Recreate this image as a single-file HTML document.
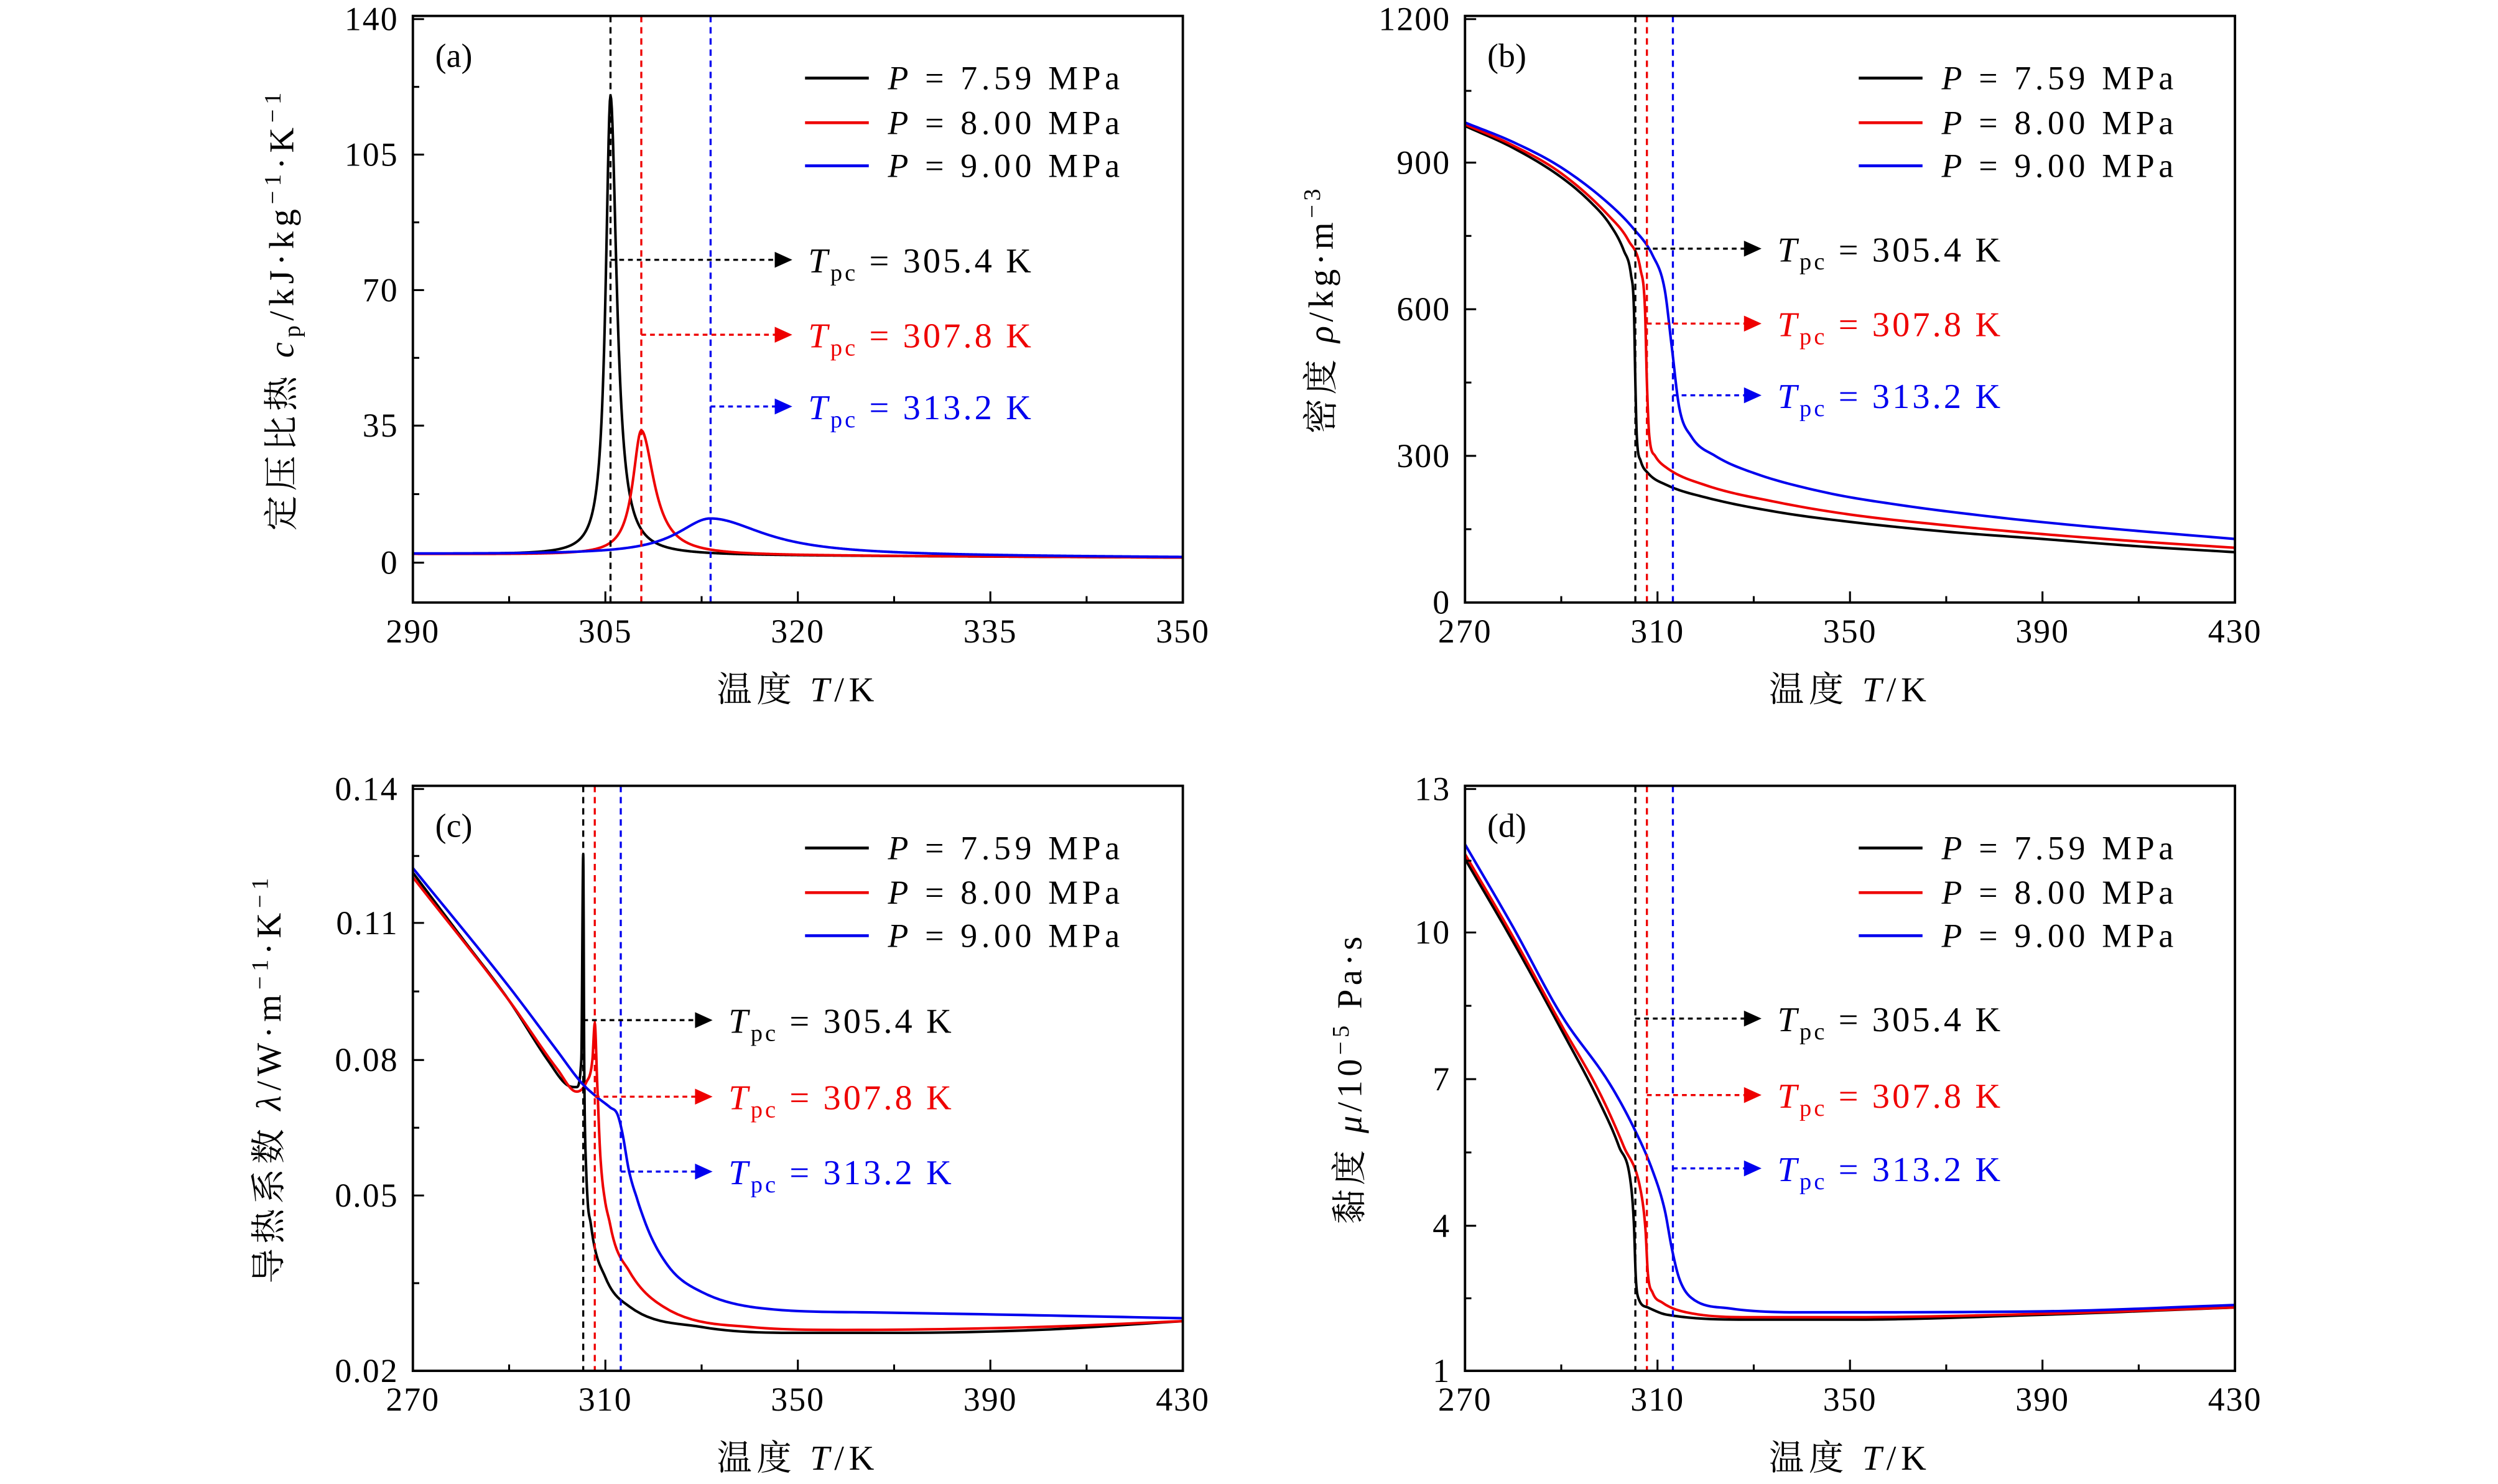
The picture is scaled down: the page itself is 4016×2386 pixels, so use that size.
<!DOCTYPE html>
<html><head><meta charset="utf-8"><style>
html,body{margin:0;padding:0;background:#fff;}
svg{display:block;}
text{font-family:"Liberation Serif","Noto Serif CJK SC",serif;fill:#000;}
</style></head><body>
<svg id="s" width="4016" height="2386" viewBox="0 0 1567 931" preserveAspectRatio="none" xmlns="http://www.w3.org/2000/svg">
<rect width="1567" height="931" fill="#fff"/>
<g id="g"></g>
</svg>
<script>
const NS="http://www.w3.org/2000/svg",G=document.getElementById('g');
function el(t,a,txt){const e=document.createElementNS(NS,t);for(const k in a)e.setAttribute(k,a[k]);if(txt!==undefined)e.innerHTML=txt;G.appendChild(e);return e;}
function interp(v,ks,ps){for(let i=0;i<ks.length-1;i++){if((v-ks[i])*(v-ks[i+1])<=0){return ps[i]+(v-ks[i])/(ks[i+1]-ks[i])*(ps[i+1]-ps[i]);}}return v<ks[0]?ps[0]:ps[ps.length-1];}
function smooth(pts){const n=pts.length;if(n<3)return pts;const x=pts.map(p=>p[0]),y=pts.map(p=>p[1]);
 const d=[],m=[];for(let i=0;i<n-1;i++)d.push((y[i+1]-y[i])/(x[i+1]-x[i]));
 m[0]=d[0];m[n-1]=d[n-2];for(let i=1;i<n-1;i++){m[i]=(d[i-1]*d[i]<=0)?0:(d[i-1]+d[i])/2;}
 for(let i=0;i<n-1;i++){if(d[i]===0){m[i]=0;m[i+1]=0;continue;}const a=m[i]/d[i],b=m[i+1]/d[i],s=a*a+b*b;if(s>9){const t=3/Math.sqrt(s);m[i]=t*a*d[i];m[i+1]=t*b*d[i];}}
 const out=[];for(let i=0;i<n-1;i++){const h=x[i+1]-x[i];for(let k=0;k<12;k++){const t=k/12,t2=t*t,t3=t2*t;
  const v=(2*t3-3*t2+1)*y[i]+(t3-2*t2+t)*h*m[i]+(-2*t3+3*t2)*y[i+1]+(t3-t2)*h*m[i+1];out.push([x[i]+t*h,v]);}}
 out.push(pts[n-1]);return out;}
const C=['#000','#e00','#00e'];
function panel(o){
 const X=v=>o.x0+(v-o.xmin)/(o.xmax-o.xmin)*(o.x1-o.x0);
 const Y=o.Y;
 o.data.forEach((d,i)=>{const dd=o.raw?d:smooth(d);let s='';dd.forEach((p,j)=>{s+=(j?'L':'M')+X(p[0]).toFixed(2)+','+Y(p[1]).toFixed(2);});el('path',{d:s,fill:'none',stroke:C[i],'stroke-width':1.6,'stroke-linejoin':'round'});});
 [305.4,307.8,313.2].forEach((t,i)=>el('line',{x1:X(t),x2:X(t),y1:o.y0,y2:o.y1,stroke:C[i],'stroke-width':1.3,'stroke-dasharray':'4,3'}));
 const tv=['305.4','307.8','313.2'];
 o.ay.forEach((y,i)=>{const xs=X([305.4,307.8,313.2][i]);
  el('line',{x1:xs,x2:o.ax-10,y1:y,y2:y,stroke:C[i],'stroke-width':1.3,'stroke-dasharray':'3,2.5'});
  el('polygon',{points:`${o.ax},${y} ${o.ax-11},${y-5} ${o.ax-11},${y+5}`,fill:C[i]});
  el('text',{x:o.ax+10,y:y+8,'font-size':22,'letter-spacing':1.6,style:'fill:'+C[i]},`<tspan font-style="italic">T</tspan><tspan font-size="15" dy="5">pc</tspan><tspan dy="-5"> = ${tv[i]} K</tspan>`);
 });
 const pv=['7.59','8.00','9.00'];
 o.ly.forEach((y,i)=>{el('line',{x1:o.lx,x2:o.lx+40,y1:y,y2:y,stroke:C[i],'stroke-width':1.8});
  el('text',{x:o.lx+52,y:y+7,'font-size':21,'letter-spacing':2.6},`<tspan font-style="italic">P</tspan> = ${pv[i]} MPa`);});
 el('rect',{x:o.x0,y:o.y0,width:o.x1-o.x0,height:o.y1-o.y0,fill:'none',stroke:'#000','stroke-width':1.5});
 o.xt.forEach((v,i)=>{const x=X(v);el('line',{x1:x,x2:x,y1:o.y1,y2:o.y1-7,stroke:'#000','stroke-width':1.2});
  el('text',{x:x,y:o.y1+25,'font-size':21,'text-anchor':'middle','letter-spacing':0.8},v);
  if(i<o.xt.length-1){const m=X((v+o.xt[i+1])/2);el('line',{x1:m,x2:m,y1:o.y1,y2:o.y1-4,stroke:'#000','stroke-width':1.2});}});
 o.yt.forEach((p,i)=>{el('line',{x1:o.x0,x2:o.x0+7,y1:p[1],y2:p[1],stroke:'#000','stroke-width':1.2});
  el('text',{x:o.x0-9,y:p[1]+7,'font-size':21,'text-anchor':'end','letter-spacing':0.8},p[0]);
  if(i<o.yt.length-1){const m=(p[1]+o.yt[i+1][1])/2;el('line',{x1:o.x0,x2:o.x0+4,y1:m,y2:m,stroke:'#000','stroke-width':1.2});}});
 el('text',{x:o.x0+14,y:o.y0+32,'font-size':21},o.lab);
 el('text',{x:(o.x0+o.x1)/2,y:o.y1+62,'font-size':22,'text-anchor':'middle','letter-spacing':3},'温度 <tspan font-style="italic">T</tspan>/K');
 const cy=(o.y0+o.y1)/2;
 el('text',{x:0,y:0,'font-size':22,'text-anchor':'middle','letter-spacing':o.yls||2.5,transform:`translate(${o.ylx},${cy}) rotate(-90)`},o.ylab);
}
function lor(T,Tp,A,w,b1,b2,asym){const d=T-Tp;const ww=d>0?w*asym:w;return b1+(b2-b1)*(T-290)/60+A/(1+(d/ww)*(d/ww));}
function gen(f,a,b){const r=[];for(let T=a;T<=b+1e-9;T+=0.05)r.push([T,f(T)]);return r;}
panel({raw:true,x0:259,x1:742,y0:10,y1:378,xmin:290,xmax:350,Y:v=>353-v*85.5/35,
 data:[gen(T=>lor(T,305.4,118,0.45,2.2,1.3,1.3),290,350),gen(T=>lor(T,307.8,32,0.8,2.2,1.3,1.5),290,350),gen(T=>lor(T,313.2,9.5,3.2,2.2,1.3,1.6),290,350)],
 xt:[290,305,320,335,350],yt:[[140,12],[105,97],[70,182],[35,267],[0,353]],ay:[163,210,255],ax:497,ly:[49,77,104],lx:505,lab:'(a)',ylx:184,yls:3,
 ylab:'定压比热 <tspan font-style="italic">c</tspan><tspan font-size="15" dy="4">p</tspan><tspan dy="-4">/kJ·kg</tspan><tspan font-size="15" dy="-8">−1</tspan><tspan dy="8">·K</tspan><tspan font-size="15" dy="-8">−1</tspan>'});
panel({x0:919,x1:1402,y0:10,y1:378,xmin:270,xmax:430,Y:v=>378-v*368/1200,
 data:[[[270,975],[280,930],[290,870],[296,820],[300,775],[303,720],[304.5,670],[305.1,600],[305.4,450],[305.7,340],[306.5,290],[308,265],[312,240],[320,215],[335,185],[350,165],[370,145],[390,130],[410,115],[430,103]],
 [[270,978],[280,935],[290,878],[300,790],[304,740],[306.5,680],[307.4,600],[307.8,450],[308.3,340],[309.5,300],[312,275],[320,240],[335,205],[350,180],[370,158],[390,140],[410,125],[430,112]],
 [[270,982],[280,942],[290,890],[300,815],[305,765],[309,710],[311.5,640],[313,520],[314.5,400],[317,340],[322,300],[330,265],[345,225],[360,200],[380,175],[400,155],[430,130]]],
 xt:[270,310,350,390,430],yt:[[1200,12],[900,102],[600,194],[300,286],[0,378]],ay:[156,203,248],ax:1105,ly:[49,77,104],lx:1166,lab:'(b)',ylx:836,
 ylab:'密度 <tspan font-style="italic">ρ</tspan>/kg·m<tspan font-size="15" dy="-8">−3</tspan>'});
const cY=v=>interp(v,[0.02,0.05,0.08,0.11,0.14],[860,750,665,579,493]);
panel({x0:259,x1:742,y0:493,y1:860,xmin:270,xmax:430,Y:cY,
 data:[[[270,0.121],[280,0.107],[290,0.093],[298,0.08],[302,0.0745],[304,0.074],[305,0.08],[305.4,0.125],[305.6,0.08],[306,0.056],[307,0.045],[310,0.036],[315,0.031],[330,0.0275],[350,0.0265],[370,0.0265],[400,0.027],[430,0.0285]],
 [[270,0.12],[290,0.093],[300,0.078],[304,0.073],[306,0.075],[307.3,0.08],[307.8,0.088],[308.3,0.075],[309,0.058],[311,0.045],[315,0.037],[322,0.031],[340,0.0275],[360,0.027],[400,0.0275],[430,0.0285]],
 [[270,0.122],[290,0.096],[300,0.082],[305,0.075],[308,0.072],[311,0.0695],[312.5,0.068],[313.5,0.064],[315,0.055],[318,0.046],[323,0.038],[330,0.0335],[345,0.0305],[365,0.03],[400,0.0295],[430,0.029]]],
 xt:[270,310,350,390,430],yt:[[0.14,495],[0.11,579],[0.08,665],[0.05,750],[0.02,860]],ay:[640,688,735],ax:447,ly:[532,560,587],lx:505,lab:'(c)',ylx:176,yls:3,
 ylab:'导热系数 <tspan font-style="italic">λ</tspan>/W·m<tspan font-size="15" dy="-8">−1</tspan><tspan dy="8">·K</tspan><tspan font-size="15" dy="-8">−1</tspan>'});
panel({x0:919,x1:1402,y0:493,y1:860,xmin:270,xmax:430,Y:v=>860-(v-1)*367/12,
 data:[[[270,11.5],[280,9.8],[290,8.0],[298,6.5],[302,5.6],[304.5,4.8],[305.1,4.0],[305.5,2.9],[306,2.5],[308,2.3],[312,2.15],[330,2.05],[350,2.05],[390,2.15],[430,2.3]],
 [[270,11.6],[280,9.9],[290,8.1],[298,6.7],[303,5.6],[306.5,4.7],[307.5,3.9],[308,3.0],[309,2.6],[311,2.4],[316,2.2],[330,2.1],[350,2.1],[390,2.17],[430,2.3]],
 [[270,11.8],[280,10.1],[290,8.3],[300,6.9],[305,6.0],[309,5.1],[311.5,4.3],[313,3.5],[314.5,2.9],[317,2.5],[325,2.28],[340,2.2],[390,2.22],[430,2.35]]],
 xt:[270,310,350,390,430],yt:[[13,495],[10,585],[7,677],[4,769],[1,860]],ay:[639,687,733],ax:1105,ly:[532,560,587],lx:1166,lab:'(d)',ylx:854,
 ylab:'黏度 <tspan font-style="italic">μ</tspan>/10<tspan font-size="15" dy="-8">−5</tspan><tspan dy="8"> Pa·s</tspan>'});
</script>
</body></html>
